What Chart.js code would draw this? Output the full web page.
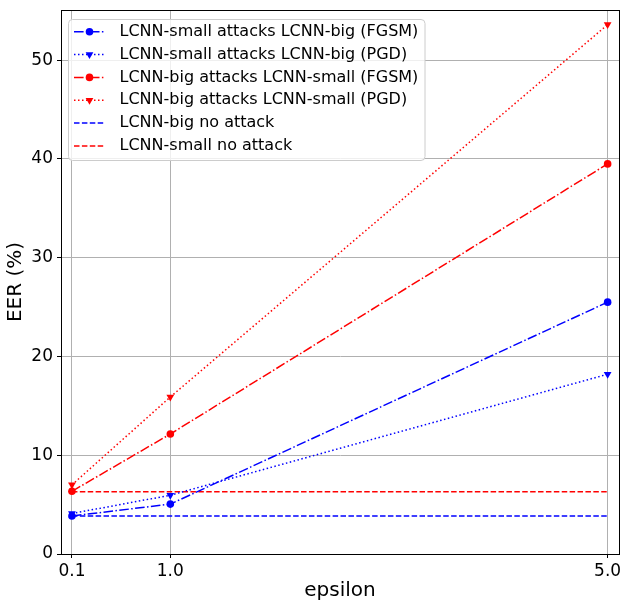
<!DOCTYPE html>
<html>
<head>
<meta charset="utf-8">
<script src="https://cdn.jsdelivr.net/npm/chart.js@4.4.0/dist/chart.umd.min.js"></script>
<style>
  html, body { margin: 0; padding: 0; background: #ffffff; }
  #wrap { width: 628px; height: 609px; }
</style>
</head>
<body>
<div id="wrap"><canvas id="c" width="628" height="609"></canvas></div>
<script>
// ---- data ----
const epsilons = [0.1, 1.0, 5.0];
const xTickLabels = ["0.1", "1.0", "5.0"];
const yTicks = [0, 10, 20, 30, 40, 50];
const smallAttacksBigFGSM = [3.85, 5.05, 25.5];
const smallAttacksBigPGD = [4.1, 5.95, 18.2];
const bigAttacksSmallFGSM = [6.35, 12.15, 39.5];
const bigAttacksSmallPGD = [7.0, 15.9, 53.6];
const bigNoAttack = 3.85;
const smallNoAttack = 6.3;
const labels = [
  "LCNN-small attacks LCNN-big (FGSM)",
  "LCNN-small attacks LCNN-big (PGD)",
  "LCNN-big attacks LCNN-small (FGSM)",
  "LCNN-big attacks LCNN-small (PGD)",
  "LCNN-big no attack",
  "LCNN-small no attack"
];

const FONT = "'DejaVu Sans', sans-serif";
const pts = (ys) => epsilons.map((x, i) => ({x: x, y: ys[i]}));
const flat = (v) => [{x: epsilons[0], y: v}, {x: epsilons[epsilons.length - 1], y: v}];

const DASHDOT = [9.6, 2.4, 1.5, 2.4];
const DOTTED = [1.5, 2.5];
const DASHED = [5.5, 2.4];

function ds(label, data, color, dash, marker) {
  return {
    label: label,
    data: data,
    borderColor: color,
    backgroundColor: color,
    borderWidth: 1.5,
    borderDash: dash,
    pointStyle: marker === 'none' ? false : (marker === 'tri' ? 'triangle' : 'circle'),
    pointRotation: marker === 'tri' ? 180 : 0,
    pointRadius: marker === 'none' ? 0 : (marker === 'tri' ? 4.5 : 3.8),
    pointBorderWidth: 0,
    pointHoverRadius: 0,
    tension: 0,
    fill: false
  };
}

const datasets = [
  ds(labels[0], pts(smallAttacksBigFGSM), '#0000ff', DASHDOT, 'circle'),
  ds(labels[1], pts(smallAttacksBigPGD), '#0000ff', DOTTED, 'tri'),
  ds(labels[2], pts(bigAttacksSmallFGSM), '#ff0000', DASHDOT, 'circle'),
  ds(labels[3], pts(bigAttacksSmallPGD), '#ff0000', DOTTED, 'tri'),
  ds(labels[4], flat(bigNoAttack), '#0000ff', DASHED, 'none'),
  ds(labels[5], flat(smallNoAttack), '#ff0000', DASHED, 'none')
];

// frame (top/right spines)
const framePlugin = {
  id: 'frame',
  afterDatasetsDraw(chart) {
    const {ctx, chartArea: a} = chart;
    ctx.save();
    ctx.strokeStyle = '#000000';
    ctx.lineWidth = 1;
    ctx.strokeRect(Math.round(a.left) + 0.5, Math.round(a.top) + 0.5,
                   Math.round(a.right - a.left), Math.round(a.bottom - a.top));
    ctx.restore();
  }
};

// legend inside the axes, upper left
const legendPlugin = {
  id: 'innerLegend',
  afterDraw(chart) {
    const {ctx} = chart;
    const bx = 68.5, by = 19.5, bw = 356.5, bh = 141;
    ctx.save();
    ctx.beginPath();
    const r = 4;
    ctx.moveTo(bx + r, by);
    ctx.lineTo(bx + bw - r, by);
    ctx.arcTo(bx + bw, by, bx + bw, by + r, r);
    ctx.lineTo(bx + bw, by + bh - r);
    ctx.arcTo(bx + bw, by + bh, bx + bw - r, by + bh, r);
    ctx.lineTo(bx + r, by + bh);
    ctx.arcTo(bx, by + bh, bx, by + bh - r, r);
    ctx.lineTo(bx, by + r);
    ctx.arcTo(bx, by, bx + r, by, r);
    ctx.closePath();
    ctx.fillStyle = 'rgba(255,255,255,0.8)';
    ctx.fill();
    ctx.strokeStyle = '#cccccc';
    ctx.lineWidth = 1;
    ctx.stroke();

    chart.data.datasets.forEach((d, i) => {
      const y = 31.7 + i * 22.85;
      ctx.save();
      ctx.strokeStyle = d.borderColor;
      ctx.fillStyle = d.backgroundColor;
      ctx.lineWidth = d.borderWidth;
      ctx.setLineDash(d.borderDash || []);
      ctx.beginPath();
      ctx.moveTo(74, y);
      ctx.lineTo(104, y);
      ctx.stroke();
      ctx.setLineDash([]);
      if (d.pointStyle) {
        ctx.lineWidth = 0;
        Chart.helpers.drawPoint(ctx, {
          pointStyle: d.pointStyle,
          rotation: d.pointRotation,
          radius: d.pointRadius,
          borderWidth: 0
        }, 89.5, y);
      }
      ctx.restore();
      ctx.fillStyle = '#000000';
      ctx.font = '16px ' + FONT;
      ctx.textBaseline = 'middle';
      ctx.textAlign = 'left';
      ctx.fillText(d.label, 119.5, y);
    });
    ctx.restore();
  }
};

new Chart(document.getElementById('c'), {
  type: 'line',
  data: { datasets: datasets },
  options: {
    responsive: false,
    animation: false,
    devicePixelRatio: 1,
    layout: { padding: { left: 0, top: 10, right: 9, bottom: 0 } },
    plugins: { legend: { display: false }, tooltip: { enabled: false } },
    scales: {
      x: {
        type: 'linear',
        min: 0,
        max: 5.104,
        afterBuildTicks(scale) { scale.ticks = epsilons.map(v => ({value: v})); },
        afterFit(scale) { scale.height = 55; scale.paddingLeft = 0; scale.paddingRight = 0; },
        ticks: {
          callback: (v) => xTickLabels[epsilons.indexOf(v)] ?? '',
          font: { family: FONT, size: 17 },
          color: '#000000',
          padding: 3,
          maxRotation: 0,
          autoSkip: false
        },
        grid: { color: '#b0b0b0', lineWidth: 1, tickColor: '#000000', tickLength: 4, drawTicks: true },
        border: { color: '#000000', width: 1 },
        title: { display: true, text: 'epsilon', font: { family: FONT, size: 20 }, color: '#000000',
                 padding: { top: 0, bottom: 6 } }
      },
      y: {
        type: 'linear',
        min: 0,
        max: 55.08,
        afterBuildTicks(scale) { scale.ticks = yTicks.map(v => ({value: v})); },
        afterFit(scale) { scale.width = 61; scale.paddingTop = 0; scale.paddingBottom = 0; },
        ticks: {
          font: { family: FONT, size: 17 },
          color: '#000000',
          padding: 4
        },
        grid: { color: '#b0b0b0', lineWidth: 1, tickColor: '#000000', tickLength: 4, drawTicks: true },
        border: { color: '#000000', width: 1 },
        title: { display: true, text: 'EER (%)', font: { family: FONT, size: 20 }, color: '#000000',
                 padding: { top: 4, bottom: 0 } }
      }
    }
  },
  plugins: [framePlugin, legendPlugin]
});
</script>
</body>
</html>
